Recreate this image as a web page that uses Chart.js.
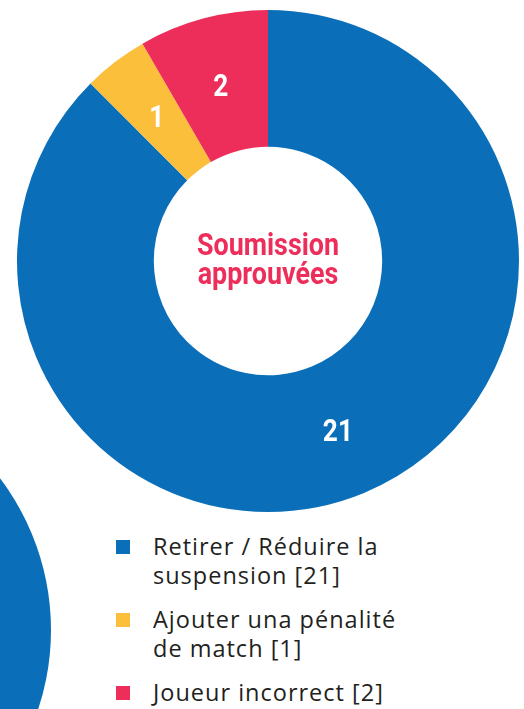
<!DOCTYPE html>
<html>
<head>
<meta charset="utf-8">
<script src="https://cdn.jsdelivr.net/npm/chart.js@4"></script>
<style>
  html, body { margin: 0; padding: 0; background: #fff; }
  body { width: 524px; height: 709px; position: relative; overflow: hidden; }
  #deco { position: absolute; left: -451px; top: 379px; width: 502px; height: 502px; border-radius: 50%; background: #0a6fb8; }
  #chart { position: absolute; left: 0; top: 0; }
  #legend { position: absolute; left: 116px; top: 532px; list-style: none; margin: 0; padding: 0;
            font-family: "Open Sans", sans-serif; font-size: 23.5px; line-height: 29px; letter-spacing: 1px; color: #231f20; }
  #legend li { position: relative; padding-left: 37px; margin-bottom: 15px; }
  #legend li span.box { position: absolute; left: 0; top: 8px; width: 14px; height: 14px; }
</style>
</head>
<body>
<div id="deco"></div>
<canvas id="chart" width="524" height="522"></canvas>
<ul id="legend"></ul>
<script>
// Données
const categories = ['Retirer / Réduire la suspension', 'Ajouter una pénalité de match', 'Joueur incorrect'];
const legendLines = [['Retirer / Réduire la', 'suspension [21]'], ['Ajouter una pénalité', 'de match [1]'], ['Joueur incorrect [2]']];
const values = [21, 1, 2];
const colors = ['#0a6fb8', '#fcbf3c', '#ed2e5a'];
const centerText = ['Soumission', 'approuvées'];

// Étiquettes dans les tranches + texte central
const labelsPlugin = {
    id: 'labelsPlugin',
    afterDatasetsDraw(chart) {
        const ctx = chart.ctx;
        const meta = chart.getDatasetMeta(0);
        ctx.save();
        ctx.textAlign = 'center';
        ctx.textBaseline = 'middle';
        ctx.fillStyle = '#fff';
        ctx.font = 'bold 32px Roboto';
        meta.data.forEach((arc, i) => {
            const p = arc.tooltipPosition();
            ctx.save();
            ctx.translate(p.x, p.y + 3);
            ctx.scale(0.82, 1);
            ctx.fillText(String(values[i]), 0, 0);
            ctx.restore();
        });
        const cx = (chart.chartArea.left + chart.chartArea.right) / 2;
        const cy = (chart.chartArea.top + chart.chartArea.bottom) / 2;
        ctx.fillStyle = '#ed2e5a';
        ctx.font = 'bold 32px Roboto';
        ctx.textBaseline = 'alphabetic';
        centerText.forEach((line, i) => {
            ctx.save();
            ctx.translate(cx, cy - 6 + i * 29);
            ctx.scale(0.84, 1);
            ctx.fillText(line, 0, 0);
            ctx.restore();
        });
        ctx.restore();
    }
};

new Chart(document.getElementById('chart'), {
    type: 'doughnut',
    data: {
        labels: categories,
        datasets: [{
            data: values,
            backgroundColor: colors,
            borderWidth: 0,
            hoverOffset: 0
        }]
    },
    options: {
        responsive: false,
        animation: false,
        cutout: '45.5%',
        layout: { padding: { left: 17, right: 5, top: 10, bottom: 10 } },
        plugins: {
            legend: { display: false },
            tooltip: { enabled: false }
        }
    },
    plugins: [labelsPlugin]
});

// Légende HTML
const legendEl = document.getElementById('legend');
legendLines.forEach((lines, i) => {
    const li = document.createElement('li');
    li.innerHTML = '<span class="box" style="background:' + colors[i] + '"></span>' + lines.join('<br>');
    legendEl.appendChild(li);
});
</script>
</body>
</html>
